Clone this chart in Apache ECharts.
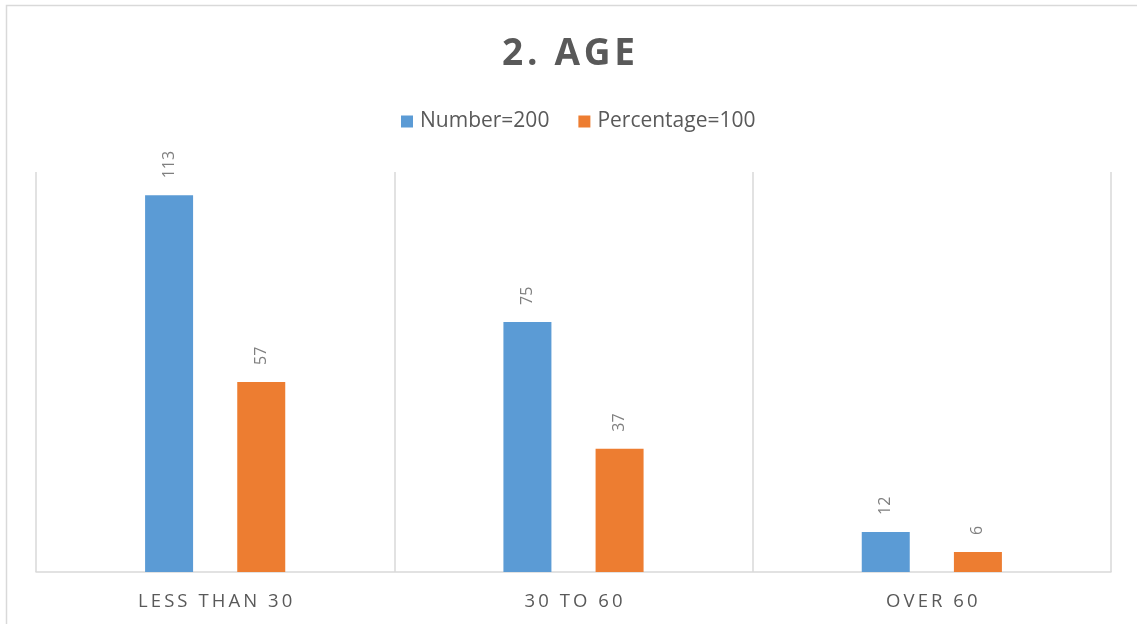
<!DOCTYPE html>
<html>
<head>
<meta charset="utf-8">
<script src="https://cdn.jsdelivr.net/npm/echarts@6/dist/echarts.min.js"></script>
<style>html,body{margin:0;padding:0;background:#fff;}#c{width:1137px;height:624px;}</style>
</head>
<body>
<div id="c"></div>
<script>
const titleText = '2. AGE';
const categories = ['LESS THAN 30', '30 TO 60', 'OVER 60'];
const seriesNames = ['Number=200', 'Percentage=100'];
const numberValues = [113, 75, 12];
const percentageValues = [57, 37, 6];

const spaced = (s, sp) => s.split('').join(sp);
const chart = echarts.init(document.getElementById('c'), null, {renderer: 'canvas'});
const labelOpt = {
  show: true, position: 'top', rotate: 90, align: 'left', verticalAlign: 'middle',
  distance: 17, color: '#7f7f7f', fontSize: 16, fontFamily: 'Open Sans'
};
chart.setOption({
  animation: false,
  backgroundColor: '#fff',
  graphic: [{
    type: 'rect', shape: {x: 6.5, y: 5.5, width: 1300, height: 800},
    style: {fill: 'none', stroke: '#d9d9d9', lineWidth: 1.5}, silent: true, z: -1
  }],
  title: {
    text: spaced(titleText, '\u200A'), left: 'center', top: 31,
    textStyle: {fontFamily: 'Open Sans', fontWeight: 'bold', fontSize: 37, color: '#595959'}
  },
  legend: {
    data: seriesNames, top: 106, left: 396, itemWidth: 12, itemHeight: 12, itemGap: 29,
    icon: 'rect',
    textStyle: {fontFamily: 'Open Sans', fontSize: 21, color: '#595959', padding: [0, 0, 0, 2]}
  },
  grid: {left: 36, right: 26, top: 172, bottom: 52, containLabel: false},
  xAxis: {
    type: 'category', data: categories,
    axisLine: {lineStyle: {color: '#d9d9d9', width: 1.5}},
    axisTick: {show: false},
    splitLine: {show: true, interval: 0, lineStyle: {color: '#d9d9d9', width: 1.5}},
    axisLabel: {
      margin: 20, color: '#595959', fontSize: 18.5, fontFamily: 'Open Sans',
      formatter: v => spaced(v, '\u2009')
    }
  },
  yAxis: {type: 'value', min: 0, max: 120, show: false, splitLine: {show: false}},
  series: [
    {name: seriesNames[0], type: 'bar', data: numberValues, barWidth: 48, barGap: '92%',
     itemStyle: {color: '#5B9BD5'}, label: labelOpt},
    {name: seriesNames[1], type: 'bar', data: percentageValues, barWidth: 48, barGap: '92%',
     itemStyle: {color: '#ED7D31'}, label: labelOpt}
  ]
});
</script>
</body>
</html>
